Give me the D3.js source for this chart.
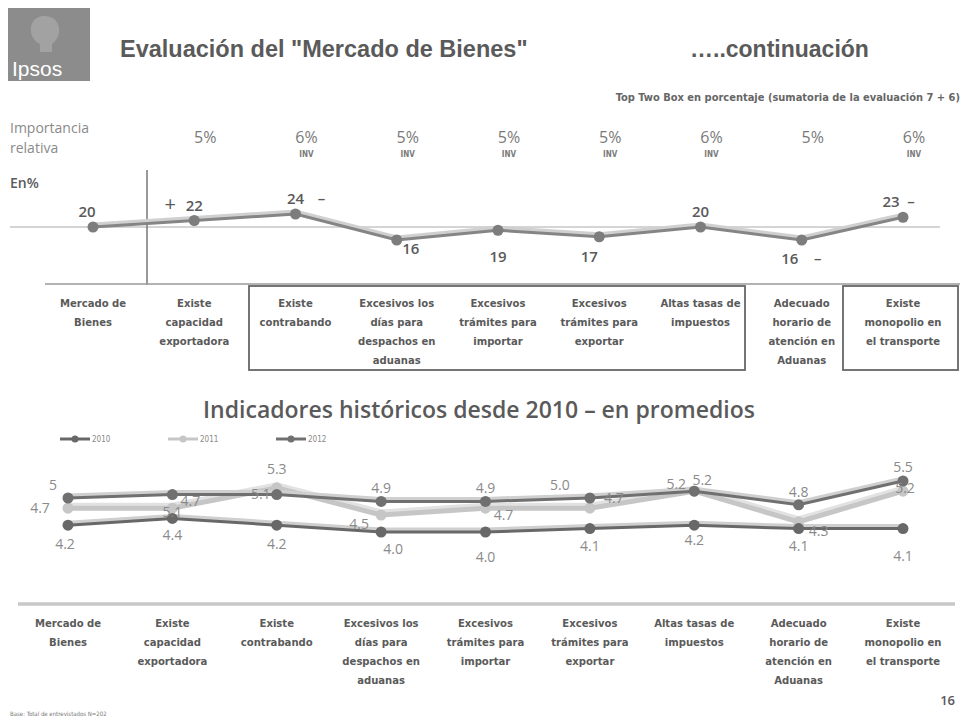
<!DOCTYPE html>
<html><head><meta charset="utf-8">
<script src="https://cdn.jsdelivr.net/npm/d3@7"></script>
<style>body{margin:0;background:#fff;} svg{display:block;}</style>
</head><body>
<svg id="c" width="967" height="723"></svg>
<script>
// ---- data ----
const categories = [
  ["Mercado de","Bienes"],
  ["Existe","capacidad","exportadora"],
  ["Existe","contrabando"],
  ["Excesivos los","días para","despachos en","aduanas"],
  ["Excesivos","trámites para","importar"],
  ["Excesivos","trámites para","exportar"],
  ["Altas tasas de","impuestos"],
  ["Adecuado","horario de","atención en","Aduanas"],
  ["Existe","monopolio en","el transporte"]
];
const importance = ["", "5%", "6%", "5%", "5%", "5%", "6%", "5%", "6%"];
const inv = [false, false, true, true, true, true, true, false, true];
const topTwoBox = [20, 22, 24, 16, 19, 17, 20, 16, 23];
const significance = ["", "+", "–", "", "", "", "", "–", "–"];
const years = ["2010", "2011", "2012"];
const s2010 = ["4.2","4.4","4.2","4.0","4.0","4.1","4.2","4.1","4.1"];
const s2011 = ["4.7","4.7","5.3","4.5","4.7","4.7","5.2","4.3","5.2"];
const s2012 = ["5","5.1","5.1","4.9","4.9","5.0","5.2","4.8","5.5"];

const svg = d3.select("#c");
const idx = d3.range(categories.length);
const txt = "#5a5a5a";

// ---- header ----
svg.append("rect").attr("x",8).attr("y",8).attr("width",82).attr("height",73).attr("fill","#8c8c8c");
svg.append("path").attr("d","M44,16 C34,16 30,24 31,32 C32,38 36,42 40,44 L40,52 L52,52 L52,44 C57,40 60,34 59,28 C58,20 52,16 44,16 Z").attr("fill","#a2a2a2");
svg.append("text").attr("x",12).attr("y",76).attr("font-family","Liberation Sans, Arial, sans-serif").attr("font-size",21).attr("fill","#fff").text("Ipsos");
svg.append("text").attr("x",120).attr("y",57).attr("font-family","Liberation Sans, Arial, sans-serif").attr("font-weight","bold").attr("font-size",23.5).attr("fill",txt).text('Evaluación del "Mercado de Bienes"');
svg.append("text").attr("x",690).attr("y",57).attr("font-family","Liberation Sans, Arial, sans-serif").attr("font-weight","bold").attr("font-size",23).attr("fill",txt).text("…..continuación");
svg.append("text").attr("x",960).attr("y",101).attr("text-anchor","end").attr("font-family","DejaVu Sans Condensed, sans-serif").attr("font-weight","bold").attr("font-size",11).attr("fill","#666").text("Top Two Box en porcentaje (sumatoria de la evaluación 7 + 6)");

// ---- upper chart ----
const x1 = d3.scalePoint().domain(idx).range([93, 903]);
const y1 = d3.scaleLinear().domain([16, 24]).range([240, 214]);

svg.append("text").attr("x",10).attr("y",133).attr("font-family","Open Sans, sans-serif").attr("font-size",14).attr("fill","#8a8a8a").text("Importancia");
svg.append("text").attr("x",10).attr("y",153).attr("font-family","Open Sans, sans-serif").attr("font-size",14).attr("fill","#8a8a8a").text("relativa");
svg.append("text").attr("x",10).attr("y",188).attr("font-family","Open Sans, sans-serif").attr("font-weight",600).attr("font-size",14).attr("fill",txt).text("En%");

const imp = svg.append("g");
idx.forEach(i => {
  if (!importance[i]) return;
  imp.append("text").attr("x",x1(i)+11).attr("y",143).attr("text-anchor","middle").attr("font-family","Open Sans, sans-serif").attr("font-size",16).attr("fill","#7a7a7a").text(importance[i]);
  if (inv[i]) imp.append("text").attr("x",x1(i)+11).attr("y",157).attr("text-anchor","middle").attr("font-family","DejaVu Sans Condensed, sans-serif").attr("font-weight","bold").attr("font-size",8).attr("fill","#7a7a7a").text("INV");
});

svg.append("line").attr("x1",10).attr("x2",940).attr("y1",y1(20)).attr("y2",y1(20)).attr("stroke","#aaa").attr("stroke-width",1);
svg.append("line").attr("x1",147).attr("x2",147).attr("y1",170).attr("y2",285).attr("stroke","#777").attr("stroke-width",1.5);
svg.append("line").attr("x1",45).attr("x2",960).attr("y1",284).attr("y2",284).attr("stroke","#9a9a9a").attr("stroke-width",1.5);
svg.append("rect").attr("x",249).attr("y",286).attr("width",496).attr("height",84).attr("fill","none").attr("stroke","#666").attr("stroke-width",1.8);
svg.append("rect").attr("x",843).attr("y",286).attr("width",115).attr("height",84).attr("fill","none").attr("stroke","#666").attr("stroke-width",1.8);

const line1 = d3.line().x(i => x1(i)).y(i => y1(topTwoBox[i]));
svg.append("path").datum(idx).attr("d", d3.line().x(i => x1(i)).y(i => y1(topTwoBox[i]) - 2)).attr("fill","none").attr("stroke","#d0d0d0").attr("stroke-width",5);
svg.append("path").datum(idx).attr("d", line1).attr("fill","none").attr("stroke","#858585").attr("stroke-width",3);
svg.append("g").selectAll("circle").data(idx).join("circle").attr("cx",i=>x1(i)).attr("cy",i=>y1(topTwoBox[i])).attr("r",5.5).attr("fill","#7d7d7d");

const lab1 = svg.append("g").attr("font-family","Open Sans, sans-serif").attr("font-weight",600).attr("font-size",15).attr("fill",txt);
idx.forEach(i => {
  const v = topTwoBox[i], above = v >= 20;
  const lx = x1(i) + (i === 0 ? -6 : i === 3 ? 14 : i === 5 ? -10 : i === 7 ? -12 : i === 8 ? -12 : 0);
  const ly = above ? y1(v) - 10 : (i === 3 ? y1(v) + 14 : Math.max(y1(v) + 24, 262));
  lab1.append("text").attr("x",lx).attr("y",ly).attr("text-anchor","middle").text(v);
  if (significance[i] === "+") lab1.append("text").attr("x",lx-24).attr("y",ly).attr("text-anchor","middle").attr("font-size",20).attr("font-weight",400).text("+");
  else if (significance[i]) lab1.append("text").attr("x",lx+(i===8?20:i===7?28:26)).attr("y",ly).attr("text-anchor","middle").text(significance[i]);
});

function catLabels(x, y0) {
  const g = svg.append("g").attr("font-family","DejaVu Sans Condensed, sans-serif").attr("font-weight","bold").attr("font-size",11.2).attr("fill",txt).attr("text-anchor","middle");
  idx.forEach(i => categories[i].forEach((t, k) => g.append("text").attr("x",x(i)).attr("y",y0 + k*19).text(t)));
}
catLabels(x1, 307);

// ---- lower chart ----
svg.append("text").attr("x",479).attr("y",418).attr("text-anchor","middle").attr("font-family","Open Sans, sans-serif").attr("font-weight",600).attr("font-size",23).attr("fill",txt).text("Indicadores históricos desde 2010 – en promedios");

const x2 = d3.scalePoint().domain(idx).range([68, 903]);
const y2 = d3.scaleLinear().domain([4, 5]).range([532, 498]);
const seriesDefs = [
  {name: years[0], vals: s2010, color: "#686868", halo: "#cfcfcf", w: 3},
  {name: years[1], vals: s2011, color: "#c6c6c6", halo: "#e2e2e2", w: 5},
  {name: years[2], vals: s2012, color: "#707070", halo: "#cfcfcf", w: 3}
];

// legend
const lg = svg.append("g").attr("font-family","DejaVu Sans Condensed, sans-serif").attr("font-size",8).attr("fill","#888");
[[60,seriesDefs[0]],[168,seriesDefs[1]],[276,seriesDefs[2]]].forEach(([lx,s]) => {
  lg.append("line").attr("x1",lx).attr("x2",lx+30).attr("y1",439).attr("y2",439).attr("stroke",s.color).attr("stroke-width",3);
  lg.append("circle").attr("cx",lx+15).attr("cy",439).attr("r",3.5).attr("fill",s.color);
  lg.append("text").attr("x",lx+32).attr("y",442).text(s.name);
});

svg.append("line").attr("x1",18).attr("x2",955).attr("y1",604).attr("y2",604).attr("stroke","#c8c8c8").attr("stroke-width",3.5);

[seriesDefs[1], seriesDefs[0], seriesDefs[2]].forEach(s => {
  const ln = d3.line().x(i => x2(i)).y(i => y2(+s.vals[i]));
  svg.append("path").datum(idx).attr("d", d3.line().x(i => x2(i)).y(i => y2(+s.vals[i]) - 2)).attr("fill","none").attr("stroke",s.halo).attr("stroke-width",s.w + 2);
  svg.append("path").datum(idx).attr("d", ln).attr("fill","none").attr("stroke",s.color).attr("stroke-width",s.w);
  svg.append("g").selectAll("circle").data(idx).join("circle").attr("cx",i=>x2(i)).attr("cy",i=>y2(+s.vals[i])).attr("r",5.5).attr("fill",s.color);
});

// label offsets for each series (dx, dy) relative to its point
const off2010 = [[-3,24],[0,22],[0,24],[12,22],[0,30],[0,22],[0,20],[0,22],[0,32]];
const off2012 = [[-15,-8],[0,22],[-16,4],[0,-8],[0,-8],[-30,-8],[-18,-2],[0,-8],[0,-9]];
const off2011 = [[-28,5],[18,-2],[0,-14],[-22,14],[18,12],[24,-5],[8,-6],[20,14],[2,2]];
const lab2 = svg.append("g").attr("font-family","Open Sans, sans-serif").attr("font-size",14).attr("fill","#8a8a8a").attr("text-anchor","middle");
idx.forEach(i => {
  lab2.append("text").attr("x",x2(i)+off2010[i][0]).attr("y",y2(+s2010[i])+off2010[i][1]).text(s2010[i]);
  lab2.append("text").attr("x",x2(i)+off2012[i][0]).attr("y",y2(+s2012[i])+off2012[i][1]).text(s2012[i]);
  lab2.append("text").attr("x",x2(i)+off2011[i][0]).attr("y",y2(+s2011[i])+off2011[i][1]).text(s2011[i]);
});

catLabels(x2, 627);

svg.append("text").attr("x",955).attr("y",705).attr("text-anchor","end").attr("font-family","Open Sans, sans-serif").attr("font-weight",600).attr("font-size",13).attr("fill",txt).text("16");
svg.append("text").attr("x",10).attr("y",716).attr("font-family","DejaVu Sans Condensed, sans-serif").attr("font-size",6).attr("fill","#777").text("Base: Total de entrevistados N=202");
</script>
</body></html>
